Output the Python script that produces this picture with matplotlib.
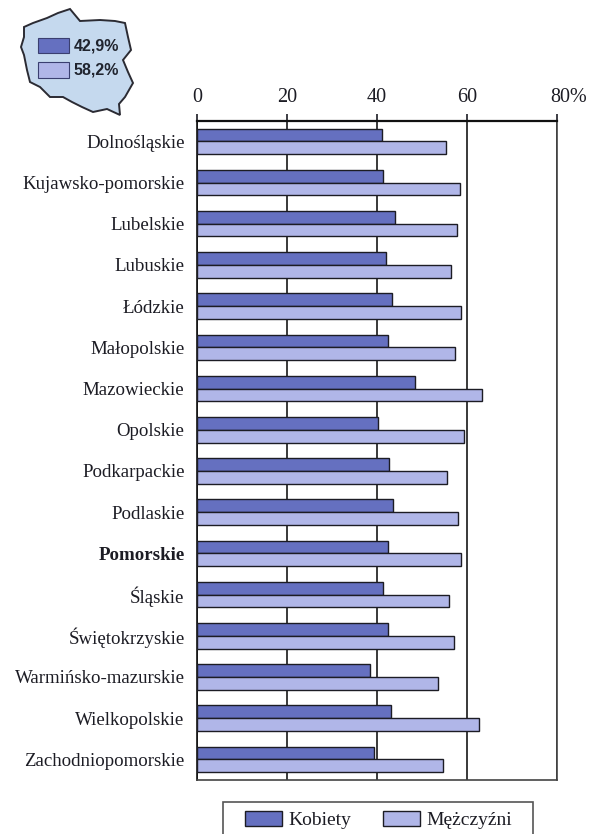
import matplotlib
matplotlib.use("Agg")
import numpy as np
import matplotlib.pyplot as plt
from matplotlib.patches import Polygon, Rectangle
from matplotlib.transforms import ScaledTranslation

W, H = 592, 834
DARK = "#1c1c24"
C_K = "#6570c0"
C_M = "#b0b6e8"

# --- Data ---
regions = ["Dolnośląskie", "Kujawsko-pomorskie", "Lubelskie", "Lubuskie", "Łódzkie",
           "Małopolskie", "Mazowieckie", "Opolskie", "Podkarpackie", "Podlaskie",
           "Pomorskie", "Śląskie", "Świętokrzyskie", "Warmińsko-mazurskie",
           "Wielkopolskie", "Zachodniopomorskie"]
kobiety = [41.1, 41.4, 44.1, 41.9, 43.3, 42.4, 48.4, 40.2,
           42.6, 43.6, 42.5, 41.3, 42.4, 38.4, 43.1, 39.3]
mezczyzni = [55.4, 58.4, 57.7, 56.5, 58.6, 57.3, 63.3, 59.3,
             55.5, 58.0, 58.7, 56.0, 57.1, 53.5, 62.7, 54.7]
xticks = [0, 20, 40, 60, 80]
xticklabels = ["0", "20", "40", "60", "80%"]
poland_avg = ["42,9%", "58,2%"]
# outline of the country, traced in image pixels
map_x = [24, 33, 47, 58, 70, 75, 80, 100, 115, 125, 128, 131, 123, 128, 133, 125, 119,
         120, 107, 93, 82, 72, 63, 50, 40, 30, 27, 24, 21, 24]
map_y = [27, 23, 18, 13, 9, 15, 21, 20, 21, 23, 37, 50, 60, 72, 83, 97, 104,
         115, 109, 112, 107, 102, 97, 97, 87, 82, 70, 55, 47, 37]

plt.rcParams["font.family"] = ["Liberation Serif", "DejaVu Serif"]

fig = plt.figure(figsize=(W / 100, H / 100), dpi=100)
left, right, top, bottom = 197, 557, 120.7, 780
ax = fig.add_axes([left / W, 1 - bottom / H, (right - left) / W, (bottom - top) / H])

y = np.arange(len(regions))
bar_h = 0.31
ax.barh(y - bar_h / 2, kobiety, bar_h, color=C_K, edgecolor=DARK, linewidth=1, zorder=3, label="Kobiety")
ax.barh(y + bar_h / 2, mezczyzni, bar_h, color=C_M, edgecolor=DARK, linewidth=1, zorder=3, label="Mężczyźni")

ax.set_xlim(0, 80)
ax.set_ylim(len(regions) - 0.5, -0.5)
ax.xaxis.tick_top()
ax.set_xticks(xticks)
ax.set_xticklabels(xticklabels, fontsize=14.5, color=DARK)
ax.tick_params(axis="x", length=5, width=1.2, color=DARK, pad=5)
# the "80" sits over its tick, the % sign hangs to the right
last = ax.get_xticklabels()[-1]
last.set_ha("left")
last.set_transform(last.get_transform() + ScaledTranslation(-7 / 100, 0, fig.dpi_scale_trans))
ax.set_yticks(y)
ax.set_yticklabels(regions, fontsize=13.6, color=DARK)
ax.tick_params(axis="y", length=0, pad=9)
ax.get_yticklabels()[regions.index("Pomorskie")].set_fontweight("bold")
ax.grid(axis="x", color="#2a2a2a", linewidth=1.3, zorder=1)
ax.set_axisbelow(True)
for side, spine in ax.spines.items():
    spine.set_color("#111111" if side in ("top", "left") else "#444444")
    spine.set_linewidth(1.6 if side == "top" else 1.2)

# Poland inset and legend box, drawn in image pixels
m = fig.add_axes([0, 0, 1, 1], facecolor="none")
m.set_xlim(0, W)
m.set_ylim(H, 0)
m.axis("off")
m.add_patch(Polygon(np.column_stack([map_x, map_y]), closed=True, facecolor="#c5d9ee",
                    edgecolor="#2b2b33", linewidth=1.4))
m.add_patch(Rectangle((38, 38), 31, 15, facecolor=C_K, edgecolor="#3a3f70", linewidth=0.8))
m.add_patch(Rectangle((38, 62), 31, 16, facecolor=C_M, edgecolor="#3a3f70", linewidth=0.8))
for yy, txt in zip([46, 70], poland_avg):
    m.text(74, yy, txt, family="Liberation Sans", weight="bold", fontsize=11.5,
           color="#20242e", va="center", ha="left")
m.add_patch(Rectangle((223, 802), 310, 40, facecolor="white", edgecolor="#555555", linewidth=1.2))

# legend at the bottom, the box runs off the image edge
handles, labels = ax.get_legend_handles_labels()
leg = m.legend(handles, labels, loc="center", bbox_to_anchor=(378.5 / W, 1 - 820 / H),
               bbox_transform=fig.transFigure, ncol=2, frameon=False, fontsize=14,
               handlelength=1.9, handleheight=0.8, columnspacing=1.65, handletextpad=0.3,
               borderpad=0, labelcolor=DARK)

fig.savefig("out.png", dpi=100)
